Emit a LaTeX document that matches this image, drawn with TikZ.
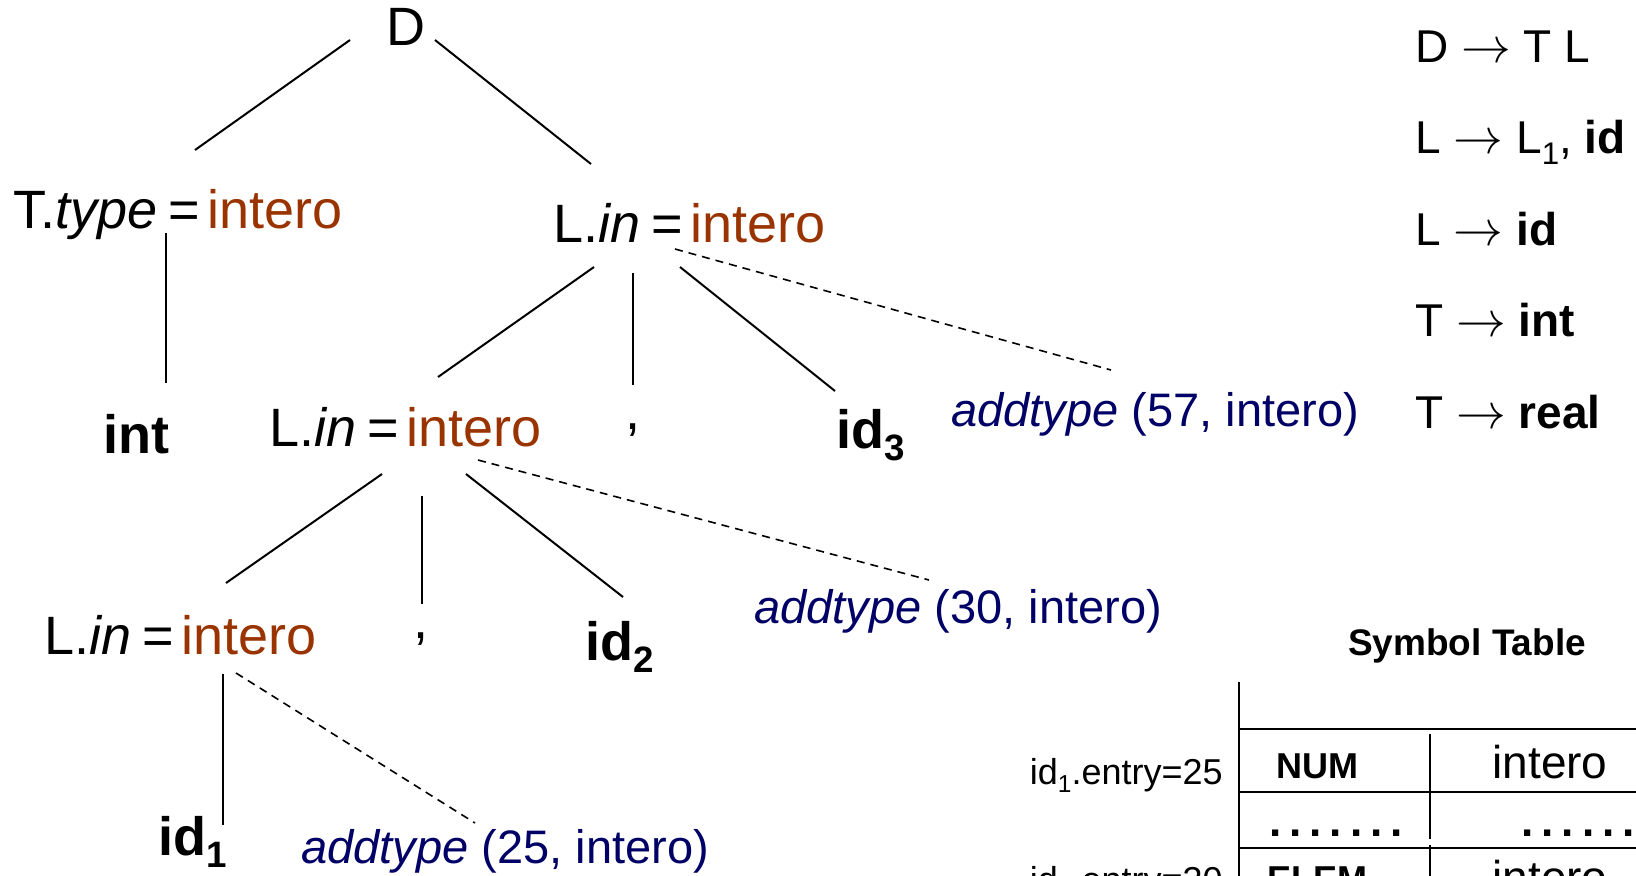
\documentclass[tikz,border=0pt]{standalone}
\usepackage{fontspec}
\setmainfont{Liberation Sans}
\usepackage{tikz}
\usetikzlibrary{calc}

\definecolor{brn}{RGB}{153,51,0}
\definecolor{navy}{RGB}{0,0,102}
\newcommand{\sbs}[1]{\raisebox{-0.23em}{\scalebox{0.68}{#1}}}
\newcommand{\eqsign}{\hspace{0.2em}=\hspace{0.14em}}
\newcommand{\dotrow}{.\kern4pt.\kern4pt.\kern4pt.\kern4pt.\kern4pt.\kern4pt.}

\tikzset{
  lbl/.style={inner sep=0pt, anchor=base west, font=\fontsize{27}{31}\selectfont},
  act/.style={lbl, text=navy, font=\fontsize{23.5}{27}\selectfont},
  prod/.style={inner sep=0pt, anchor=base west, font=\fontsize{23}{27}\selectfont},
  cell/.style={inner sep=0pt, anchor=base, font=\fontsize{23}{27}\selectfont},
  branch/.style={line width=1pt},
  link/.style={line width=0.8pt, dash pattern=on 4pt off 3pt},
  grid/.style={line width=1.2pt},
}

\begin{document}
\begin{tikzpicture}[x=0.5pt,y=-0.5pt]
       \useasboundingbox (0,0) rectangle (1636,875);
       \clip (0,0) rectangle (1636,875);

       % albero
       \node (nD) at (386,45) [lbl]{D};
       \node (nT) at (13,228) [lbl]{T.\textit{type}\eqsign\textcolor{brn}{intero}};
       \node (nLa) at (553,242) [lbl]{L.\textit{in}\eqsign\textcolor{brn}{intero}};
       \node (nInt) at (103,453) [lbl]{\textbf{int}};
       \node (nLb) at (269,446) [lbl]{L.\textit{in}\eqsign\textcolor{brn}{intero}};
       \node (nCa) at (625,429) [lbl]{,};
       \node (nId3) at (836,448) [lbl]{\textbf{id\sbs{3}}};
       \node (nLc) at (44,654) [lbl]{L.\textit{in}\eqsign\textcolor{brn}{intero}};
       \node (nCb) at (413,638) [lbl]{,};
       \node (nId2) at (585,660) [lbl]{\textbf{id\sbs{2}}};
       \node (nId1) at (158,855) [lbl]{\textbf{id\sbs{1}}};

       \node (nAddA) at (951,426) [act]{\textit{addtype} (57, intero)};
       \node (nAddB) at (754,623) [act]{\textit{addtype} (30, intero)};
       \node (nAddC) at (301,863) [act]{\textit{addtype} (25, intero)};

       \draw [branch] ([shift={(-36,-5)}]nD.base west) -- ([shift={(182,-78)}]nT.base west);
       \draw [branch] ([shift={(49,-5)}]nD.base west) -- ([shift={(38,-78)}]nLa.base west);
       \draw [branch] ([shift={(153,5)}]nT.base west) -- ([shift={(63,-70)}]nInt.base west);

       \draw [branch] ([shift={(41,25)}]nLa.base west) -- ([shift={(169,-69)}]nLb.base west);
       \draw [branch] ([shift={(80,31)}]nLa.base west) -- ([shift={(8,-44)}]nCa.base west);
       \draw [branch] ([shift={(127,25)}]nLa.base west) -- ([shift={(-1,-57)}]nId3.base west);
       \draw [link] ([shift={(122,7)}]nLa.base west) -- ([shift={(160,-56)}]nAddA.base west);

       \draw [branch] ([shift={(113,28)}]nLb.base west) -- ([shift={(182,-71)}]nLc.base west);
       \draw [branch] ([shift={(153,50)}]nLb.base west) -- ([shift={(9,-34)}]nCb.base west);
       \draw [branch] ([shift={(197,28)}]nLb.base west) -- ([shift={(38,-63)}]nId2.base west);
       \draw [link] ([shift={(209,14)}]nLb.base west) -- ([shift={(175,-43)}]nAddB.base west);

       \draw [branch] ([shift={(179,20)}]nLc.base west) -- ([shift={(65,-30)}]nId1.base west);
       \draw [link] ([shift={(192,19)}]nLc.base west) -- ([shift={(174,-40)}]nAddC.base west);

       % grammatica
       \foreach \txt [count=\k from 0] in {{D $\rightarrow$ T L},
              {L $\rightarrow$ L\sbs{1}, \textbf{id}},
              {L $\rightarrow$ \textbf{id}},
              {T $\rightarrow$ \textbf{int}},
              {T $\rightarrow$ \textbf{real}}}
       	\node (g\k) at (1415,{62+91.5*\k}) [prod]{\txt};

       % symbol table
       \node (stab) at (1467,655) [cell,font=\fontsize{18.5}{22}\selectfont\bfseries]{Symbol Table};
       \draw [grid] (1239,682) -- (1239,900);
       \foreach \y in {729,792,848}
       	\draw [grid] (1239,\y) -- (1650,\y);
       \draw [grid] (1430,734) -- (1430,839);
       \draw [grid] (1430,845) -- (1430,900);

       \node (e1) at (1223,784) [cell,anchor=base east,font=\fontsize{18}{22}\selectfont]{id\sbs{1}.entry=25};
       \node (e2) at (1223,892) [cell,anchor=base east,font=\fontsize{18}{22}\selectfont]{id\sbs{2}.entry=30};
       \node (k1) at (1317,778) [cell,font=\fontsize{18}{22}\selectfont\bfseries]{NUM};
       \node (t1) at (1550,778) [cell]{intero};
       \node (k2) at (1336,836) [cell,font=\fontsize{22}{26}\selectfont\bfseries]{\dotrow};
       \node (t2) at (1521,836) [cell,anchor=base west,font=\fontsize{22}{26}\selectfont\bfseries]{\dotrow};
       \node (k3) at (1317,891) [cell,font=\fontsize{18}{22}\selectfont\bfseries]{ELEM};
       \node (t3) at (1550,893) [cell]{intero};

\end{tikzpicture}
\end{document}
